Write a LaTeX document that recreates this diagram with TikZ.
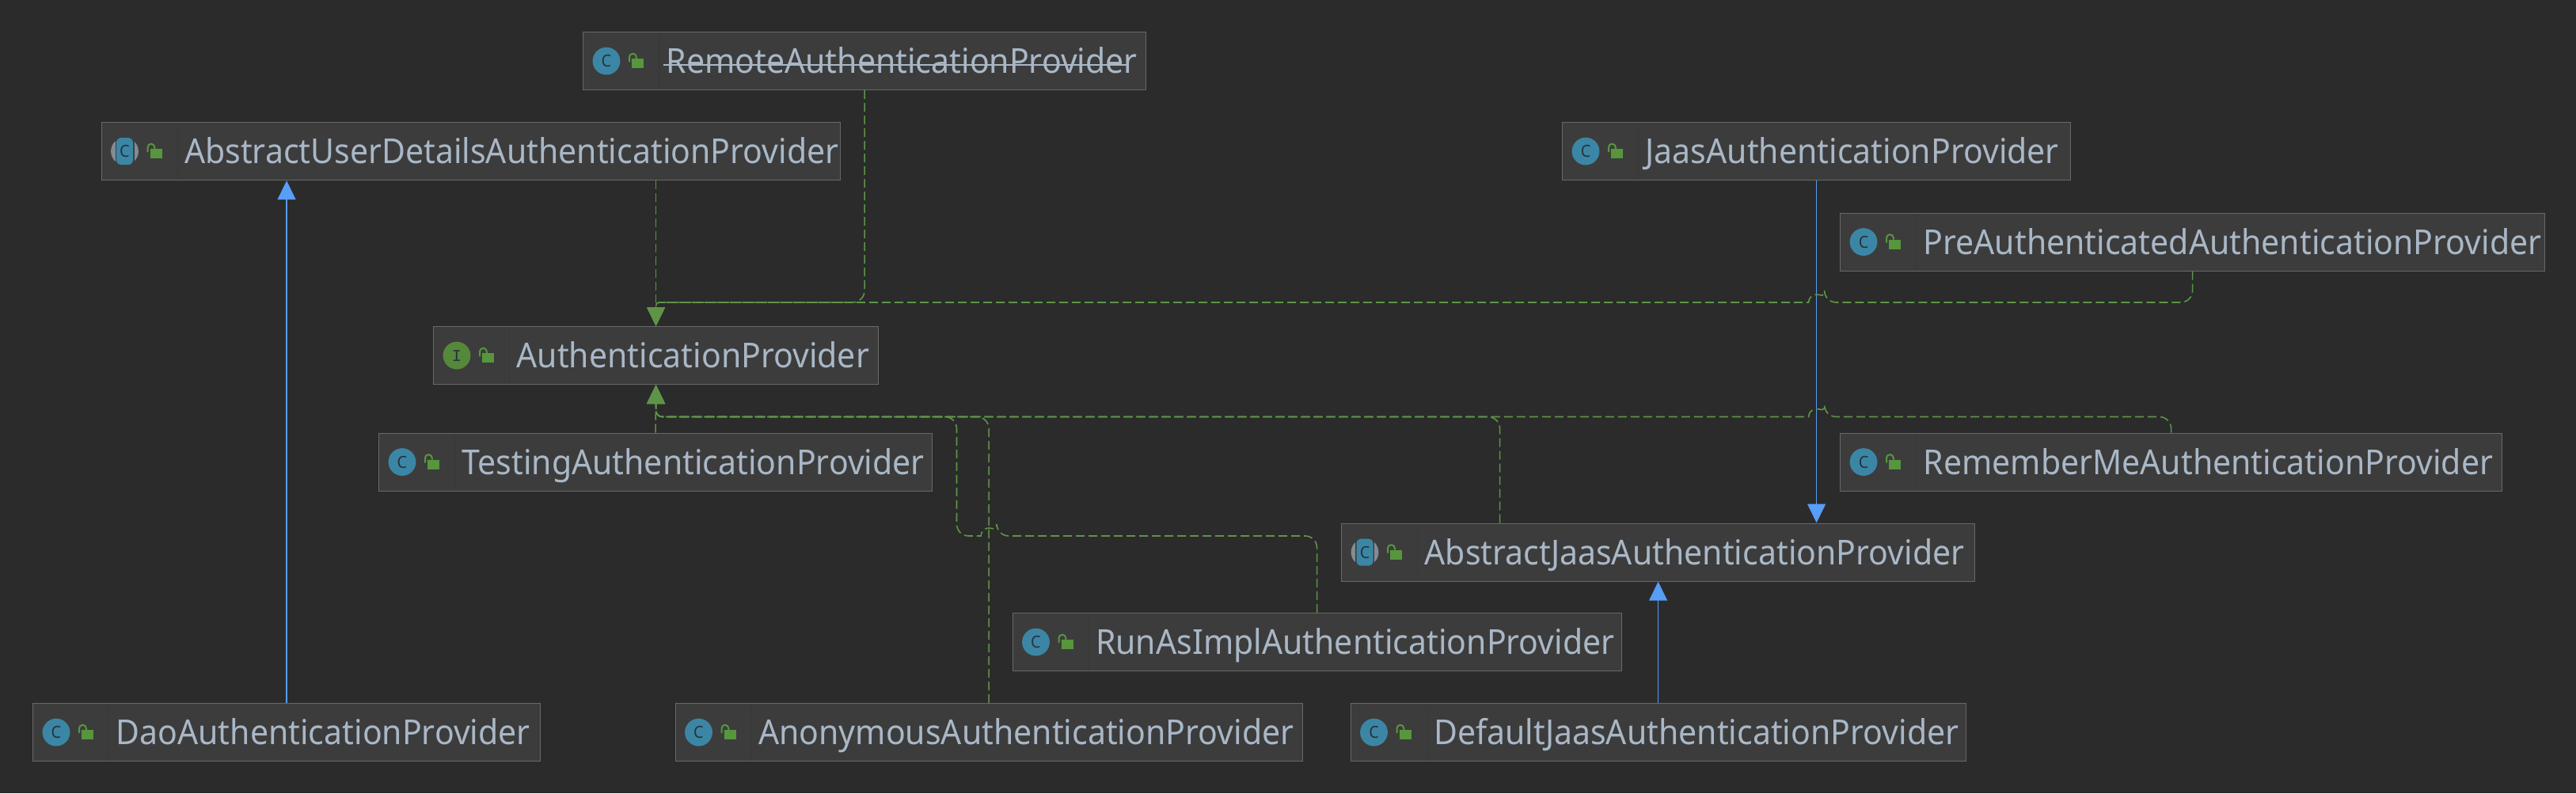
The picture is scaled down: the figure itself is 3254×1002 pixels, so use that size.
\documentclass[tikz,border=0pt]{standalone}
\usepackage{fontspec}
\usepackage{tikz}
\usetikzlibrary{arrows.meta,positioning}
\setmainfont[FakeStretch=0.945]{Noto Sans}
\newfontfamily\iconfont{Liberation Mono}

\definecolor{mybg}{RGB}{43,43,43}
\definecolor{mybox}{RGB}{60,60,60}
\definecolor{myborder}{RGB}{104,104,104}
\definecolor{mydivider}{RGB}{56,56,56}
\definecolor{mytext}{RGB}{169,183,198}
\definecolor{myblue}{RGB}{88,157,246}
\definecolor{mygreen}{RGB}{94,148,72}
\definecolor{mylock}{RGB}{87,150,60}
\definecolor{myclass}{RGB}{60,134,165}
\definecolor{myiface}{RGB}{86,136,60}
\definecolor{mygrey}{RGB}{130,140,146}
\definecolor{myglyph}{RGB}{38,52,60}

\tikzset{
    lockicon/.pic={
        \draw[mydivider,line width=0.5pt] (96.5,-35.5) -- (96.5,35.5);
        \fill[mylock] (62,-3) rectangle (77,9);
        \draw[mylock,line width=1pt] (59,1) -- (59,-5) arc[start angle=180,end angle=0,radius=2.2pt] -- (67.8,-3);
    },
    classicon/.pic={
        \fill[myclass] (30,0) circle[radius=8.7pt];
        \node[iconletter] (glyph) at (30,0) {C};
        \pic {lockicon};
    },
    abstracticon/.pic={
        \fill[mygrey] (30,0) circle[radius=8.7pt];
        \fill[mybox] (18,-18) rectangle (42,18);
        \fill[myclass,rounded corners=3pt] (19.5,-17) rectangle (40.5,17);
        \node[iconletter] (glyph) at (30,0) {C};
        \pic {lockicon};
    },
    ifaceicon/.pic={
        \fill[myiface] (30,0) circle[radius=8.7pt];
        \node[iconletter] (glyph) at (30,0) {\iconfont I};
        \pic {lockicon};
    }
}

\begin{document}
\begin{tikzpicture}[x=0.5pt,y=-0.5pt]
    \tikzstyle{format}=[rectangle,draw=myborder,fill=mybox,line width=0.6pt,anchor=north west,
        minimum height=36.5pt,inner sep=0pt,text width=#1,align=left,text height=15.5pt,text depth=0pt,
        text=mytext,font=\fontsize{21.7pt}{24pt}\selectfont,execute at begin node={\hspace*{52.5pt}}]
    \tikzstyle{iconletter}=[text=myglyph,inner sep=0pt,font=\fontsize{10.5pt}{11pt}\selectfont]
    \tikzstyle{extends}=[myblue,line width=0.8pt,-{Triangle[length=12pt,width=11.5pt]}]
    \tikzstyle{impl}=[mygreen,line width=0.8pt,dash pattern=on 5.5pt off 2.5pt,rounded corners=7.5pt,
        -{Triangle[length=12pt,width=11.5pt]}]

    \fill[mybg] (0,0) rectangle (3254,1002);

    % rails of the dashed lines
    \coordinate (toprail) at (0,382);
    \coordinate (lowrail) at (0,526.5);
    \coordinate (midrail) at (0,677);

    % boxes
    \node[format=355.5pt] (remote) at (736,40) {\rlap{\kern-2pt\rule[5pt]{293pt}{0.8pt}}RemoteAuthenticationProvider};
    \node[format=466.5pt] (absud) at (127.5,154) {AbstractUserDetailsAuthenticationProvider};
    \node[format=321pt] (jaas) at (1973,154) {JaasAuthenticationProvider};
    \node[format=445pt] (preauth) at (2324,268.5) {PreAuthenticatedAuthenticationProvider};
    \node[format=281pt] (auth) at (547,412) {AuthenticationProvider};
    \node[format=349.5pt] (testing) at (478,546.5) {TestingAuthenticationProvider};
    \node[format=418pt] (remember) at (2324,546.5) {RememberMeAuthenticationProvider};
    \node[format=400pt] (absjaas) at (1694,660.5) {AbstractJaasAuthenticationProvider};
    \node[format=384.5pt] (runas) at (1278.5,774) {RunAsImplAuthenticationProvider};
    \node[format=320.5pt] (dao) at (41,888) {DaoAuthenticationProvider};
    \node[format=396pt] (anon) at (852.5,888) {AnonymousAuthenticationProvider};
    \node[format=388.5pt] (defjaas) at (1705.5,888) {DefaultJaasAuthenticationProvider};

    % icons
    \pic at (remote.west) {classicon};
    \pic at (absud.west) {abstracticon};
    \pic at (jaas.west) {classicon};
    \pic at (preauth.west) {classicon};
    \pic at (auth.west) {ifaceicon};
    \pic at (testing.west) {classicon};
    \pic at (remember.west) {classicon};
    \pic at (absjaas.west) {abstracticon};
    \pic at (runas.west) {classicon};
    \pic at (dao.west) {classicon};
    \pic at (anon.west) {classicon};
    \pic at (defjaas.west) {classicon};

    % solid lines
    \draw[extends](dao.north)--(dao.north |- absud.south);
    \draw[extends](jaas.south)--(jaas.south |- absjaas.north);
    \draw[extends](defjaas.north)--(absjaas.south);

    % dashed lines
    \draw[impl](auth.north |- absud.south)--(auth.north);
    \draw[impl](remote.south)--(remote.south |- toprail)[rounded corners=2pt]--(auth.north |- toprail)--(auth.north);
    \draw[impl](preauth.south)--(preauth.south |- toprail)--([xshift=5pt]jaas.south |- toprail)
        [sharp corners] arc[start angle=0,end angle=180,radius=5pt]
        [rounded corners=2pt]--(auth.north |- toprail)--(auth.north);
    \draw[impl](testing.north)--(auth.south);
    \draw[impl](remember.north)--(remember.north |- lowrail)--([xshift=5pt]jaas.south |- lowrail)
        [sharp corners] arc[start angle=0,end angle=180,radius=5pt]
        [rounded corners=4pt]--(auth.south |- lowrail)--(auth.south);
    \draw[impl]([xshift=-100pt]absjaas.north)--([xshift=-100pt]absjaas.north |- lowrail)
        [rounded corners=4pt]--(auth.south |- lowrail)--(auth.south);
    \draw[impl](anon.north)--(anon.north |- lowrail)
        [rounded corners=4pt]--(auth.south |- lowrail)--(auth.south);
    \draw[impl](runas.north)--(runas.north |- midrail)--([xshift=5pt]anon.north |- midrail)
        [sharp corners] arc[start angle=0,end angle=180,radius=5pt]
        [rounded corners=7.5pt]--(1208.5,677)--(1208.5,526.5)
        [rounded corners=4pt]--(auth.south |- lowrail)--(auth.south);
\end{tikzpicture}
\end{document}
